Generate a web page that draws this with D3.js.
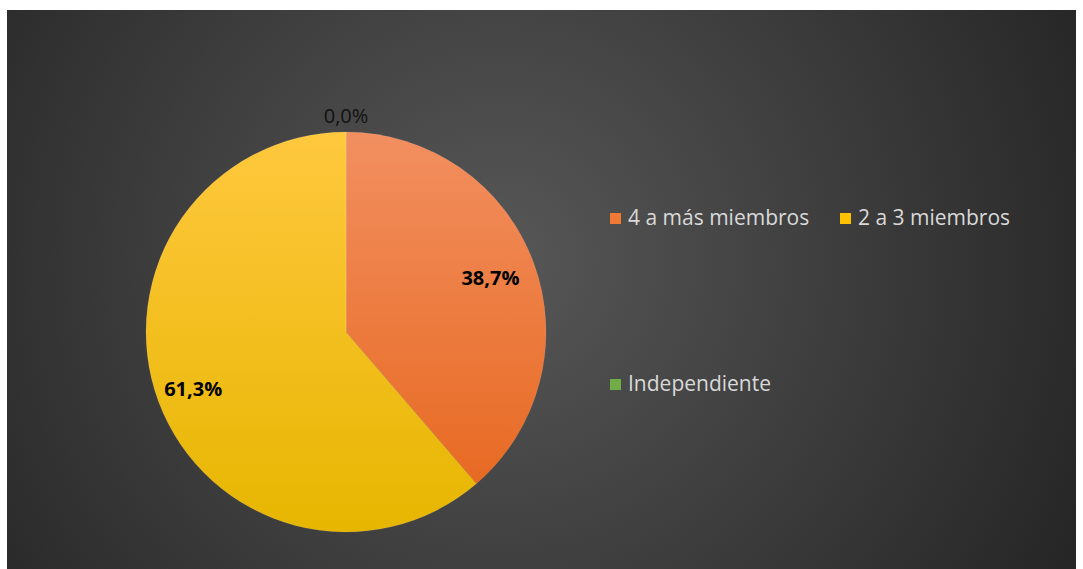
<!DOCTYPE html>
<html><head><meta charset="utf-8">
<script src="https://cdn.jsdelivr.net/npm/d3@7"></script>
<style>html,body{margin:0;padding:0;background:#fff;}svg{display:block;}</style>
</head><body>
<script>
const categories = ["4 a más miembros", "2 a 3 miembros", "Independiente"];
const values = [38.7, 61.3, 0.0];
const labels = ["38,7%", "61,3%", "0,0%"];

const W = 1083, H = 569;
const svg = d3.select("body").append("svg").attr("width", W).attr("height", H);
const defs = svg.append("defs");

const bg = defs.append("radialGradient").attr("id", "bg")
  .attr("gradientUnits", "userSpaceOnUse")
  .attr("cx", 500).attr("cy", 260).attr("r", 640);
bg.append("stop").attr("offset", "0%").attr("stop-color", "#575757");
bg.append("stop").attr("offset", "100%").attr("stop-color", "#262626");

function lin(id, c1, c2) {
  const g = defs.append("linearGradient").attr("id", id)
    .attr("gradientUnits", "userSpaceOnUse")
    .attr("x1", 0).attr("y1", -200).attr("x2", 0).attr("y2", 200);
  g.append("stop").attr("offset", "0%").attr("stop-color", c1);
  g.append("stop").attr("offset", "100%").attr("stop-color", c2);
}
lin("g0", "#f28f60", "#e6651a");
lin("g1", "#ffc83e", "#e6b600");
lin("g2", "#7cc05a", "#5a9e3a");
const fills = ["url(#g0)", "url(#g1)", "url(#g2)"];
const legendColors = ["#ee7a36", "#ffc000", "#70ad47"];

svg.append("rect").attr("x", 7).attr("y", 10).attr("width", 1069).attr("height", 559).attr("fill", "url(#bg)");

const cx = 346, cy = 332, R = 200;
const pie = d3.pie().sort(null).value(d => d)(values);
const arc = d3.arc().innerRadius(0).outerRadius(R);
const g = svg.append("g").attr("transform", `translate(${cx},${cy})`);
g.selectAll("path").data(pie).join("path")
  .attr("d", arc).attr("fill", (d, i) => fills[i])
  .attr("stroke", "rgba(255,255,255,0.15)").attr("stroke-width", 0.6);

const font = "'Open Sans', Lato, sans-serif";
const labRadii = [154, 163];
g.selectAll("text.lab").data(pie.slice(0, 2)).join("text")
  .attr("class", "lab")
  .attr("transform", (d, i) => {
    const a = d3.arc().innerRadius(labRadii[i]).outerRadius(labRadii[i]);
    const c = a.centroid(d); return `translate(${c[0]},${c[1]})`; })
  .attr("text-anchor", "middle").attr("dy", "0.35em")
  .attr("font-family", font).attr("font-weight", "bold").attr("font-size", 20)
  .attr("fill", "#000").text((d, i) => labels[i]);

// zero slice label outside at top
const outArc = d3.arc().innerRadius(R + 16).outerRadius(R + 16);
g.append("text").datum(pie[2])
  .attr("transform", d => { const c = outArc.centroid(d); return `translate(${c[0]},${c[1]})`; })
  .attr("text-anchor", "middle").attr("dy", "0.35em")
  .attr("font-family", font).attr("font-size", 20).attr("fill", "#111")
  .text(labels[2]);

const legendPos = [[610, 218], [840, 218], [610, 384]];
const lg = svg.append("g");
categories.forEach((c, i) => {
  const [x, y] = legendPos[i];
  lg.append("rect").attr("x", x).attr("y", y - 5).attr("width", 11).attr("height", 11).attr("fill", legendColors[i]);
  lg.append("text").attr("x", x + 18).attr("y", y).attr("dy", "0.35em")
    .attr("font-family", font).attr("font-size", 21).attr("fill", "#d9d9d9").text(c);
});
</script>
</body></html>
